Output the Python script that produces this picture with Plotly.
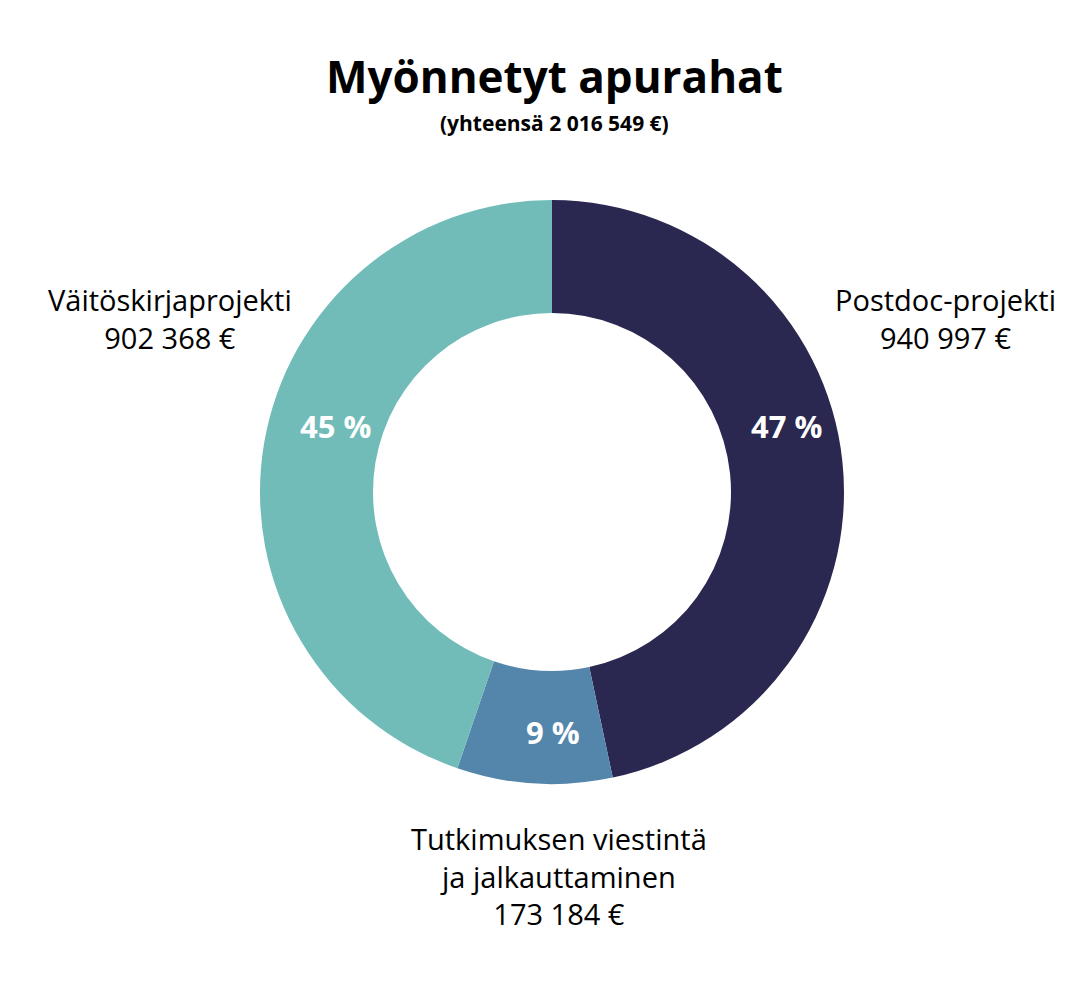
import plotly.graph_objects as go

categories = ["Postdoc-projekti", "Tutkimuksen viestintä ja jalkauttaminen", "Väitöskirjaprojekti"]
values = [940997, 173184, 902368]
colors = ["#2a2850", "#5486ab", "#71bcb8"]
total = sum(values)
pct_text = [f"{round(v / total * 100)} %" for v in values]

def fmt(v):
    return f"{v:,}".replace(",", " ") + " €"

fig = go.Figure(go.Pie(
    labels=categories, values=values, sort=False, direction="clockwise", rotation=0,
    hole=0.613, marker=dict(colors=colors, line=dict(width=0)),
    textinfo="none",
    domain=dict(x=[252/1092, 836/1092], y=[1-776/982, 1-192/982]),
    hoverinfo="label+value", showlegend=False,
))

pct_pos = [(778, 418), (545, 724), (327, 418)]
for (px, py), t in zip(pct_pos, pct_text):
    fig.add_annotation(xref="paper", yref="paper", x=px/1092, y=1-py/982, showarrow=False,
                       xanchor="center", yanchor="middle", text=f"<b>{t}</b>",
                       font=dict(family="Open Sans", size=31, color="white"))

font = dict(family="Open Sans", size=29, color="black")
anns = [
    dict(x=938/1092, y=1-310/982, text=f"{categories[0]}<br>{fmt(values[0])}"),
    dict(x=551/1092, y=1-868/982, text=f"Tutkimuksen viestintä<br>ja jalkauttaminen<br>{fmt(values[1])}"),
    dict(x=162/1092, y=1-310/982, text=f"{categories[2]}<br>{fmt(values[2])}"),
]
for a in anns:
    fig.add_annotation(xref="paper", yref="paper", showarrow=False, font=font, align="center",
                       xanchor="center", yanchor="middle", **a)

fig.add_annotation(xref="paper", yref="paper", x=546/1092, y=1-68/982, showarrow=False,
                   xanchor="center", yanchor="middle",
                   text="<b>Myönnetyt apurahat</b>", font=dict(family="Open Sans", size=44, color="black"))
fig.add_annotation(xref="paper", yref="paper", x=546/1092, y=1-115/982, showarrow=False,
                   xanchor="center", yanchor="middle",
                   text=f"<b>(yhteensä {fmt(total)})</b>", font=dict(family="Open Sans", size=21, color="black"))

fig.update_layout(width=1092, height=982, margin=dict(l=0, r=0, t=0, b=0),
                  paper_bgcolor="white", plot_bgcolor="white")
fig.write_html("out.html")
